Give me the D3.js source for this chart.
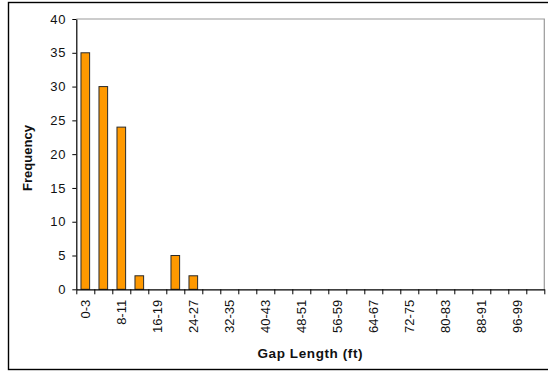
<!DOCTYPE html>
<html>
<head>
<meta charset="utf-8">
<script src="https://cdn.jsdelivr.net/npm/d3@7"></script>
<style>
  html, body { margin: 0; padding: 0; background: #fff; }
  svg { display: block; }
  text { font-family: "Liberation Sans", Arial, sans-serif; fill: #111; }
</style>
</head>
<body>
<svg id="chart" width="548" height="371"></svg>
<script>
// Gap length bins (ft) and how many gaps fell in each
const categories = ["0-3","4-7","8-11","12-15","16-19","20-23","24-27","28-31","32-35","36-39",
  "40-43","44-47","48-51","52-55","56-59","60-63","64-67","68-71","72-75","76-79",
  "80-83","84-87","88-91","92-95","96-99","More"];
const frequency = [35,30,24,2,0,5,2,0,0,0, 0,0,0,0,0,0,0,0,0,0, 0,0,0,0,0,0];
const yTicks = [0,5,10,15,20,25,30,35,40];
const xTitle = "Gap Length (ft)";
const yTitle = "Frequency";

const svg = d3.select("#chart");
const plot = { left: 76.3, top: 19, right: 544.3, bottom: 289.3 };

// chart frame
svg.append("rect")
  .attr("x", 8.5).attr("y", 2.5)
  .attr("width", 560).attr("height", 367)
  .attr("fill", "#fff").attr("stroke", "#000").attr("stroke-width", 1.4);

const x = d3.scaleBand()
  .domain(categories)
  .range([plot.left, plot.right])
  .paddingInner(0.52)
  .paddingOuter(0.26);

// boundary scale for tick marks between categories
const xEdge = d3.scaleLinear().domain([0, categories.length]).range([plot.left, plot.right]);

const y = d3.scaleLinear().domain([0, 40]).range([plot.bottom, plot.top]);

// plot area border (top and right)
svg.append("path")
  .attr("d", `M${plot.left},${plot.top}H${plot.right}V${plot.bottom}`)
  .attr("fill", "none").attr("stroke", "#9a9a9a").attr("stroke-width", 1.2);

// bars
svg.append("g").selectAll("rect")
  .data(categories.map((c, i) => ({ c, v: frequency[i] })).filter(d => d.v > 0))
  .join("rect")
  .attr("x", d => x(d.c))
  .attr("y", d => y(d.v))
  .attr("width", x.bandwidth())
  .attr("height", d => y(0) - y(d.v))
  .attr("fill", "#FF9900")
  .attr("stroke", "#2a2a2a")
  .attr("stroke-width", 1);

// y axis
const yAxis = svg.append("g")
  .attr("transform", `translate(${plot.left},0)`)
  .call(d3.axisLeft(y).tickValues(yTicks).tickSize(4).tickPadding(6).tickSizeOuter(0));
yAxis.select(".domain").attr("stroke", "#000").attr("stroke-width", 1.2);
yAxis.selectAll(".tick line").attr("stroke", "#000");
yAxis.selectAll(".tick text")
  .attr("font-size", 13)
  .attr("letter-spacing", 0.8)
  .style("font-family", "Liberation Sans, Arial, sans-serif")
  .attr("fill", "#111");

// x axis tick marks at category boundaries
const xTickAxis = svg.append("g")
  .attr("transform", `translate(0,${plot.bottom})`)
  .call(d3.axisBottom(xEdge).tickValues(d3.range(categories.length + 1)).tickFormat("").tickSize(5).tickSizeOuter(0));
xTickAxis.select(".domain").attr("stroke", "#000").attr("stroke-width", 1.2);
xTickAxis.selectAll(".tick line").attr("stroke", "#000");

// x axis labels, every other category
const xLabelAxis = svg.append("g")
  .attr("transform", `translate(0,${plot.bottom})`)
  .call(d3.axisBottom(x)
    .tickValues(categories.filter((c, i) => i % 2 === 0))
    .tickSize(0).tickSizeOuter(0));
xLabelAxis.select(".domain").remove();
xLabelAxis.selectAll(".tick text")
  .attr("font-size", 13)
  .style("font-family", "Liberation Sans, Arial, sans-serif")
  .attr("fill", "#111")
  .attr("text-anchor", "end")
  .attr("transform", "rotate(-90)")
  .attr("x", -10.5)
  .attr("y", 0)
  .attr("dy", "0.35em");

// axis titles
svg.append("text")
  .attr("x", (plot.left + plot.right) / 2)
  .attr("y", 357.5)
  .attr("text-anchor", "middle")
  .attr("font-size", 13.5)
  .attr("font-weight", "bold")
  .attr("letter-spacing", 0.6)
  .text(xTitle);

svg.append("text")
  .attr("transform", "translate(31.5,158) rotate(-90)")
  .attr("text-anchor", "middle")
  .attr("font-size", 13)
  .attr("font-weight", "bold")
  .text(yTitle);
</script>
</body>
</html>
